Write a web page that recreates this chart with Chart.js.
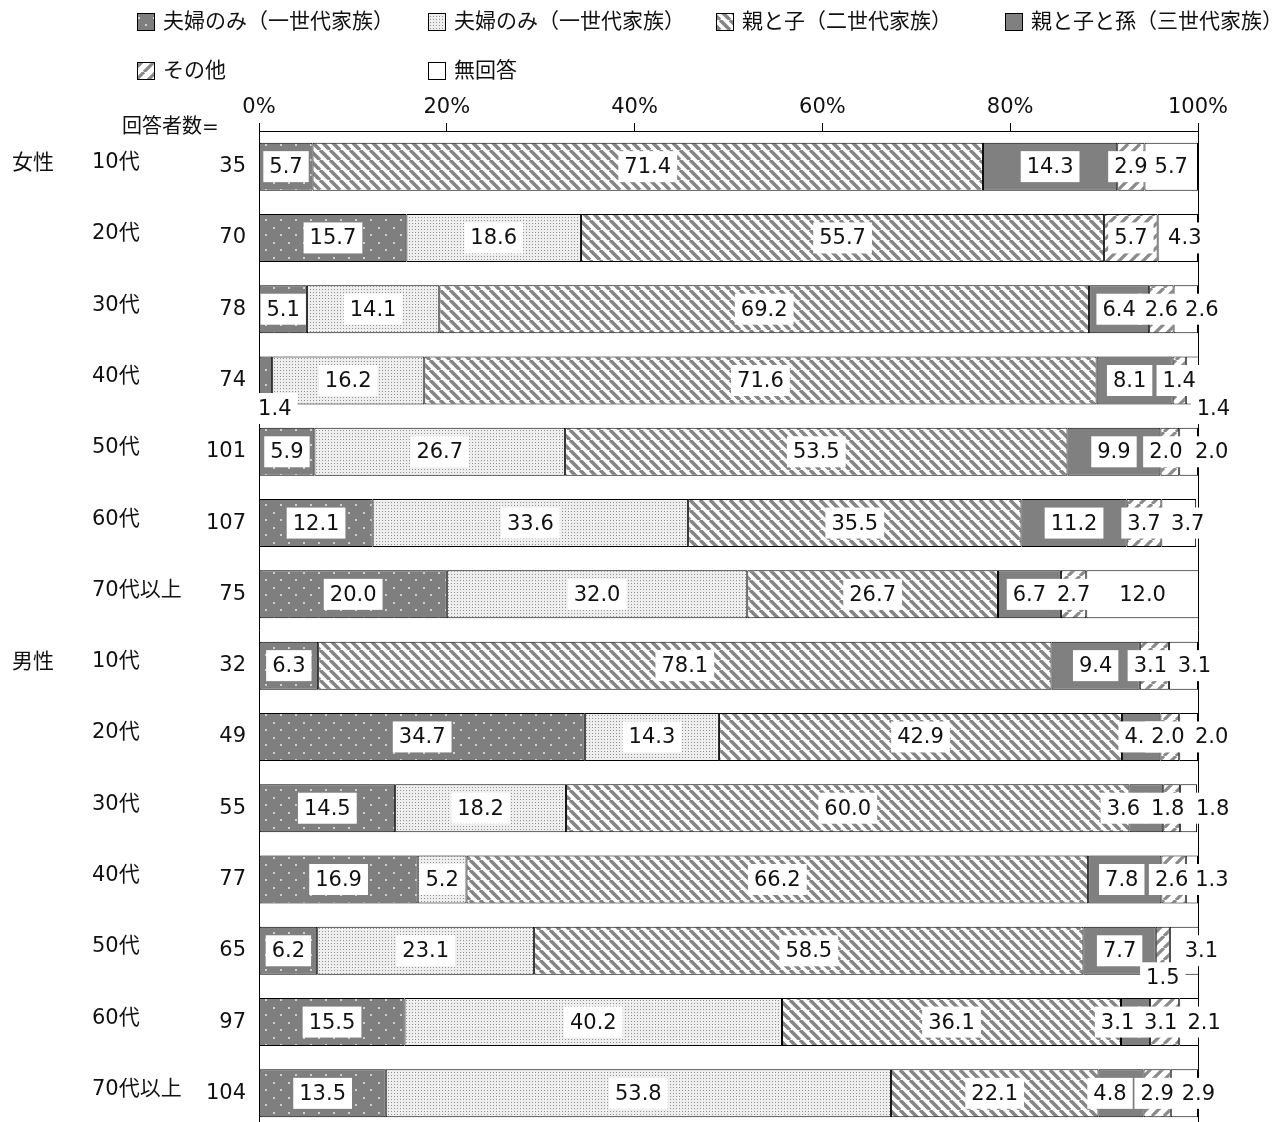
<!DOCTYPE html>
<html>
<head>
<meta charset="utf-8">
<script src="https://cdn.jsdelivr.net/npm/chart.js@4"></script>
<style>
  html, body { margin: 0; padding: 0; background: #fff; width: 1282px; height: 1122px; overflow: hidden; }
  #wrap { width: 1282px; height: 1122px; overflow: hidden; position: relative; }
  canvas { display: block; }
</style>
</head>
<body>
<div id="wrap"><canvas id="chart" width="1282" height="1130"></canvas></div>
<script>
const groups = ['女性', '男性'];
const ages = ['10代', '20代', '30代', '40代', '50代', '60代', '70代以上'];
const counts = [35, 70, 78, 74, 101, 107, 75, 32, 49, 55, 77, 65, 97, 104];
const seriesNames = ['夫婦のみ（一世代家族）', '夫婦のみ（一世代家族）', '親と子（二世代家族）', '親と子と孫（三世代家族）', 'その他', '無回答'];
const s1 = [5.7, 15.7, 5.1, 1.4, 5.9, 12.1, 20.0, 6.3, 34.7, 14.5, 16.9, 6.2, 15.5, 13.5];
const s2 = [0, 18.6, 14.1, 16.2, 26.7, 33.6, 32.0, 0, 14.3, 18.2, 5.2, 23.1, 40.2, 53.8];
const s3 = [71.4, 55.7, 69.2, 71.6, 53.5, 35.5, 26.7, 78.1, 42.9, 60.0, 66.2, 58.5, 36.1, 22.1];
const s4 = [14.3, 0, 6.4, 8.1, 9.9, 11.2, 6.7, 9.4, 4.1, 3.6, 7.8, 7.7, 3.1, 4.8];
const s5 = [2.9, 5.7, 2.6, 1.4, 2.0, 3.7, 2.7, 3.1, 2.0, 1.8, 2.6, 1.5, 3.1, 2.9];
const s6 = [5.7, 4.3, 2.6, 1.4, 2.0, 3.7, 12.0, 3.1, 2.0, 1.8, 1.3, 3.1, 2.1, 2.9];
const xTicks = [0, 20, 40, 60, 80, 100];

// label nudges (px) where the original moved a label off its segment centre
const labelNudge = {
  '1-5': [7, 0], '2-5': [16, 0],
  '3-0': [9, 28], '3-3': [-5, 0], '3-5': [21, 28],
  '4-4': [-4, 0], '4-5': [23, 0], '5-5': [9, 0],
  '7-4': [-4, 0], '7-5': [11, 0],
  '8-4': [-2, 0], '8-5': [23, 0],
  '9-3': [-23, 0], '9-4': [-4, 0], '9-5': [24, 0],
  '10-3': [-3, 0], '10-4': [-2, 0], '10-5': [20, 0],
  '11-4': [0, 27], '11-5': [17, 0],
  '12-3': [-18, 0], '12-4': [-4, 0], '12-5': [15, 0],
  '13-3': [-11, 0], '13-5': [14, 0]
};

const FONT = '"DejaVu Sans", "Noto Sans CJK JP", sans-serif';
const rows = counts.map((c, i) => 'r' + i);

function makePattern(w, h, draw) {
  const c = document.createElement('canvas');
  c.width = w; c.height = h;
  const g = c.getContext('2d');
  draw(g, w, h);
  return g.createPattern(c, 'repeat');
}

const patDots = makePattern(15, 15, (g) => {
  g.fillStyle = '#7f7f7f'; g.fillRect(0, 0, 15, 15);
  g.fillStyle = '#d0d0d0';
  g.fillRect(3, 2, 2, 2);
  g.fillRect(10, 9, 2, 2);
});
const patFine = makePattern(3, 3, (g) => {
  g.fillStyle = '#eeeeee'; g.fillRect(0, 0, 3, 3);
  g.fillStyle = '#8f8f8f'; g.fillRect(1, 1, 1, 1);
});
const patBack = makePattern(10, 10, (g) => {
  g.fillStyle = '#fff'; g.fillRect(0, 0, 10, 10);
  g.strokeStyle = '#858585'; g.lineWidth = 3.6;
  g.beginPath();
  for (const k of [-10, 0, 10]) { g.moveTo(k, 0); g.lineTo(k + 10, 10); }
  g.stroke();
});
const patFwd = makePattern(12, 12, (g) => {
  g.fillStyle = '#fff'; g.fillRect(0, 0, 12, 12);
  g.strokeStyle = '#8a8a8a'; g.lineWidth = 3.2;
  g.beginPath();
  for (const k of [-12, 0, 12]) { g.moveTo(k, 12); g.lineTo(k + 12, 0); }
  g.stroke();
});

const fills = [patDots, patFine, patBack, '#808080', patFwd, '#ffffff'];
const values = [s1, s2, s3, s4, s5, s6];

const sidePlugin = {
  id: 'side',
  afterDatasetsDraw(chart) {
    const ctx = chart.ctx;
    ctx.save();
    ctx.font = '21px ' + FONT;
    ctx.textAlign = 'center';
    ctx.textBaseline = 'middle';
    values.forEach((arr, si) => {
      const meta = chart.getDatasetMeta(si);
      arr.forEach((v, ri) => {
        if (!v) return;
        const bar = meta.data[ri];
        const nd = labelNudge[ri + '-' + si] || [0, 0];
        const cx = (bar.x + bar.base) / 2 + nd[0];
        const cy = bar.y + nd[1];
        const txt = v.toFixed(1);
        const w = ctx.measureText(txt).width + 12;
        ctx.fillStyle = '#fff';
        ctx.fillRect(cx - w / 2, cy - 15.5, w, 31);
        ctx.fillStyle = '#111';
        ctx.fillText(txt, cx, cy + 1);
      });
    });
    ctx.restore();
  },
  afterDraw(chart) {
    const ctx = chart.ctx;
    const y = chart.scales.y;
    ctx.save();
    ctx.fillStyle = '#111';
    ctx.textBaseline = 'middle';
    ctx.font = '21px ' + FONT;
    counts.forEach((n, i) => {
      const py = y.getPixelForValue(i);
      ctx.textAlign = 'left';
      if (i % 7 === 0) ctx.fillText(groups[i / 7], 12, py - 3);
      ctx.fillText(ages[i % 7], 92, py - 4);
      ctx.textAlign = 'right';
      ctx.fillText(String(n), 246, py);
    });
    ctx.textAlign = 'left';
    ctx.font = '20px ' + FONT;
    ctx.fillText('回答者数=', 122, 128);

    // legend, 4 columns
    const cols = [137, 428, 716, 1005];
    ctx.font = '21px ' + FONT;
    chart.data.datasets.forEach((ds, i) => {
      const lx = cols[i % 4];
      const ly = i < 4 ? 22 : 71;
      ctx.fillStyle = ds.backgroundColor;
      ctx.fillRect(lx, ly - 9, 18, 18);
      ctx.strokeStyle = '#000';
      ctx.lineWidth = 1;
      ctx.strokeRect(lx + 0.5, ly - 8.5, 17, 17);
      ctx.fillStyle = '#111';
      ctx.fillText(ds.label, lx + 26, ly + 1);
    });
    ctx.restore();
  }
};

new Chart(document.getElementById('chart'), {
  type: 'bar',
  data: {
    labels: rows,
    datasets: values.map((arr, i) => ({
      label: seriesNames[i],
      data: arr,
      backgroundColor: fills[i],
      borderColor: '#000',
      borderWidth: 1,
      borderSkipped: false,
      barPercentage: 0.673,
      categoryPercentage: 1
    }))
  },
  options: {
    indexAxis: 'y',
    responsive: false,
    devicePixelRatio: 1,
    animation: false,
    layout: { padding: { top: 0, right: 84, bottom: 1, left: 0 } },
    plugins: { legend: { display: false }, tooltip: { enabled: false } },
    scales: {
      x: {
        position: 'top',
        stacked: true,
        min: 0,
        max: 100,
        afterBuildTicks: (s) => { s.ticks = xTicks.map(v => ({ value: v })); },
        afterFit: (s) => { s.height = 131; },
        ticks: {
          callback: (v) => v + '%',
          color: '#111',
          padding: 3,
          font: { size: 21, family: FONT },
          maxRotation: 0
        },
        grid: {
          drawOnChartArea: true,
          color: (c) => (c.tick && c.tick.value === 100 ? '#000' : 'rgba(0,0,0,0)'),
          tickColor: '#000',
          tickLength: 8,
          lineWidth: 1
        },
        border: { display: true, color: '#000', width: 1 }
      },
      y: {
        stacked: true,
        afterFit: (s) => { s.width = 259; },
        ticks: { display: false },
        grid: { display: false },
        border: { display: true, color: '#000', width: 1 }
      }
    }
  },
  plugins: [sidePlugin]
});
</script>
</body>
</html>
